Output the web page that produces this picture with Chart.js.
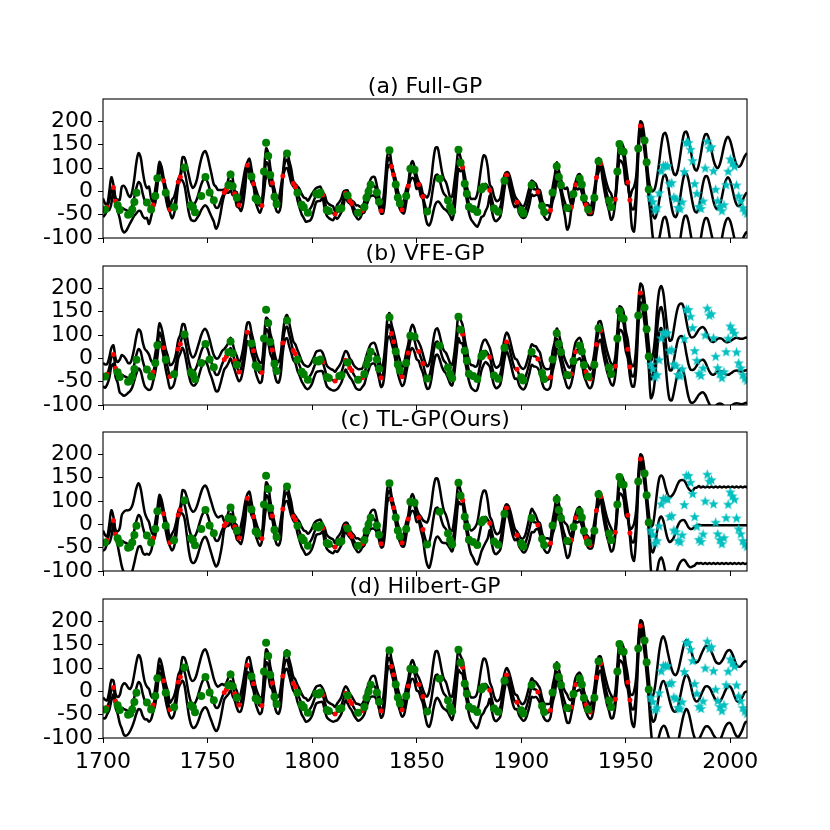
<!DOCTYPE html>
<html>
<head>
<meta charset="utf-8">
<script src="https://cdn.jsdelivr.net/npm/chart.js@4.4.0/dist/chart.umd.min.js"></script>
<style>
  body { margin: 0; background: #fff; }
  #wrap { position: relative; width: 830px; height: 830px; overflow: hidden; }
  canvas { position: absolute; left: 0; }
</style>
</head>
<body>
<div id="wrap">
  <canvas id="pa" width="760" height="214" style="top:59px"></canvas>
  <canvas id="pb" width="760" height="214" style="top:226px"></canvas>
  <canvas id="pc" width="760" height="214" style="top:392px"></canvas>
  <canvas id="pd" width="760" height="214" style="top:559px"></canvas>
</div>
<script>
// axes
const xTickValues = [1700, 1750, 1800, 1850, 1900, 1950, 2000];
const yTickValues = [-50, 0, 50, 100, 150, 200];
const yTickLabels = ['-100', '-50', '0', '100', '150', '200'];
const firstYear = 1700;

// training points (red)
const redYears = [1702,1705,1706,1724,1729,1732,1736,1737,1758,1759,1763,1765,1769,1772,1776,1781,1786,1791,1792,1805,
  1811,1816,1818,1819,1824,1833,1838,1839,1843,1846,1851,1853,1872,1885,1893,1898,1908,1914,1924,1926,
  1931,1933,1936,1938,1945,1951,1952,1957];
const redValues = [16,58,29,21,73,11,70,81,47.6,54,45.1,20.9,106.1,66.5,19.8,68.1,82.9,66.6,60,42.2,
  1.4,45.8,30.1,23.9,8.5,8.5,103.2,85.7,10.7,61.5,64.5,39,101.6,52.2,85.1,26.7,48.5,9.6,16.7,63.9,
  21.2,5.7,79.7,109.6,33.2,69.4,31.5,190.2];

// held-out points (green)
const greenYears = [1701,1707,1708,1712,1713,1714,1715,1716,1721,1723,1725,1726,1730,1734,1739,1742,1743,1744,1747,1749,
  1751,1753,1760,1761,1762,1764,1771,1773,1774,1777,1778,1779,1780,1782,1783,1788,1793,1795,1796,1798,
  1802,1803,1804,1807,1808,1813,1814,1817,1822,1825,1826,1827,1828,1831,1832,1837,1840,1841,1842,1845,
  1847,1849,1855,1861,1865,1866,1867,1870,1871,1873,1874,1875,1877,1879,1881,1882,1887,1889,1892,1900,
  1901,1905,1910,1911,1915,1917,1918,1919,1922,1925,1928,1929,1930,1932,1935,1937,1942,1943,1946,1947,
  1948,1949,1956,1959,1960,1961];
const greenValues = [11,20,10,0,2,11,27,47,26,11,40,78,47,16,101,20,16,5,40,80.9,
  47.7,30.7,62.9,85.9,61.2,36.4,81.6,34.8,30.6,92.5,154.4,125.9,84.8,38.5,22.8,130.9,46.9,21.3,16,4.1,
  45,43.1,47.5,10.1,8.1,12.2,13.9,41,4,16.6,36.3,49.6,64.2,47.8,27.5,138.3,64.6,36.7,24.2,40.1,
  98.5,96.3,6.7,77.2,30.5,16.3,7.3,139,111.2,66.2,44.7,17,12.4,6,54.3,59.7,13.1,6.3,73,9.5,
  2.7,63.5,18.6,5.7,47.4,103.9,80.6,63.6,14.2,44.3,77.8,64.9,35.7,11.1,36.1,114.4,30.6,16.3,92.6,151.6,
  136.3,134.7,141.7,159,112.3,53.9];

// forecast targets (cyan), one per year from 1962
const cyanStart = 1962;
const cyanValues = [37.6,27.9,10.2,15.1,47,93.8,105.9,105.5,104.5,66.6,
  68.9,38,34.5,15.5,12.6,27.5,92.5,155.4,154.6,140.4,
  115.9,66.6,45.9,17.9,13.4,29.4,100.2,157.6,142.6,145.7,
  94.3,54.6,29.9,17.5,8.6,21.5,64.3,93.3,119.6,111,
  104,63.7,40.4,29.8,15.2,7.5,2.9];

// predictive mean 1700-1961 (shared fit region)
const histMean = [
  15,12,16,30,52,58,30,20,12,15,
  12,10,8,10,20,38,58,70,65,45,
  30,25,20,15,21,40,72,105,95,73,
  48,30,11,12,20,40,70,81,98,92,
  70,45,28,22,25,35,50,65,75,78,
  70,55,40,25,15,15,25,38,48,54,
  62,72,60,45,33,21,28,48,78,106,
  105,84,66.5,42,28,19,22,68,112,108,
  82,68,40,23,20,38,82.9,112,118,102,
  84,66.6,60,46,35,23,15,10,8,12,
  20,32,42,44,45,42.2,28,13,8,5,
  3,1.4,6,12,20,34,45.8,40,30.1,23.9,
  15,8,5,5,8.5,17,34,47,58,61,
  60,47,29,8.5,18,58,112,122,103.2,85.7,
  64,40,24,10.7,18,40,61.5,88,97,88,
  70,64.5,52,39,21,9,12,32,62,83,
  86,74,57,45,40,30,18,14,38,78,
  118,108,101.6,70,46,24,12,9,6,9,
  28,50,62,66,60,52.2,33,15,8,10,
  16,40,70,85.1,77,60,41,28,26.7,15,
  8,5,10,24,41,58,55,54,48.5,40,
  20,8,5,5,9.6,43,63,92,80,62,
  40,25,13,8,16.7,40,63.9,69,72,62,
  36,21.2,12,5.7,15,40,79.7,106,109.6,88,
  65,45,30,17,14,33.2,88,136,134,124,
  88,69.4,31.5,12,12,52,140,190,180,150,
  105,56];

// half-width of the +-2 sigma band, 1700-1961
const histBandA = [
  20,12,6,20,28,6,6,12,20,45,
  50,45,35,28,30,40,55,62,58,48,
  38,32,40,20,6,15,12,8,8,6,
  12,15,6,20,18,15,6,6,25,30,
  35,40,38,35,38,42,50,55,58,58,
  55,50,45,40,45,38,28,15,6,6,
  15,20,18,6,15,6,20,25,20,6,
  15,15,6,15,15,15,6,20,30,25,
  20,6,15,15,15,20,6,15,18,15,
  15,6,6,15,20,22,22,25,22,25,
  25,20,15,15,15,6,15,15,15,15,
  15,6,15,15,15,15,6,12,6,6,
  12,12,15,12,6,12,15,15,18,20,
  20,15,12,6,15,20,15,15,6,6,
  12,12,12,6,15,15,6,15,18,15,
  15,6,12,6,20,28,35,45,55,60,
  58,48,38,32,30,25,20,25,30,25,
  20,15,6,15,15,20,22,25,28,35,
  45,55,65,58,42,12,25,25,22,20,
  20,20,15,6,12,15,15,12,6,12,
  12,12,15,18,18,15,15,12,6,12,
  12,12,15,15,6,15,20,20,15,15,
  20,30,45,30,6,12,6,15,15,15,
  12,6,12,6,15,15,6,15,6,15,
  18,20,22,28,18,6,15,20,20,20,
  22,6,6,40,48,30,15,10,15,15,
  15,20];
const histBandB = [
  25,25,22,22,20,20,20,22,35,42,
  42,38,32,30,32,35,40,42,42,40,
  40,40,38,30,20,20,20,20,20,20,
  22,25,25,25,25,22,20,20,25,30,
  30,30,30,30,32,35,35,35,35,35,
  35,35,32,32,35,35,32,28,22,22,
  22,22,22,20,22,20,22,22,22,20,
  22,22,20,22,22,22,20,22,25,25,
  22,20,22,22,22,22,20,22,25,25,
  22,20,20,22,22,22,22,24,24,24,
  24,22,22,22,22,20,22,22,22,22,
  22,20,22,22,22,22,20,22,20,20,
  20,22,22,22,20,22,22,22,22,22,
  22,22,22,20,22,22,22,25,20,20,
  22,22,22,20,22,22,20,22,25,25,
  22,20,22,20,22,24,26,28,28,28,
  28,26,24,22,22,22,22,22,22,22,
  25,25,20,22,22,22,24,26,26,26,
  26,26,26,24,22,20,22,22,22,22,
  22,22,22,20,22,22,22,22,20,22,
  22,22,22,22,22,22,22,22,20,22,
  22,22,22,22,20,22,22,22,22,22,
  22,22,24,22,20,22,20,22,22,22,
  22,20,22,20,22,22,20,22,20,22,
  22,22,22,22,22,20,22,25,25,25,
  22,20,20,22,22,25,25,20,25,25,
  25,25];
const histBandC = [
  22,15,8,20,28,8,8,15,30,55,
  65,70,72,72,70,70,70,68,62,55,
  45,38,35,22,8,15,12,8,8,8,
  12,15,8,18,18,15,8,8,25,30,
  40,50,55,55,55,55,55,55,55,55,
  55,55,55,55,55,50,42,30,8,8,
  15,18,18,8,15,8,20,22,20,8,
  15,15,8,15,15,15,8,20,28,25,
  20,8,15,15,15,20,8,15,18,15,
  15,8,8,15,20,22,22,25,22,22,
  22,20,15,15,15,8,15,15,15,15,
  15,8,15,15,15,15,8,12,8,8,
  12,12,15,12,8,12,15,15,18,20,
  20,15,12,8,15,20,15,15,8,8,
  12,12,12,8,15,15,8,15,18,15,
  15,8,15,20,35,45,55,60,65,65,
  62,55,45,35,30,25,20,22,25,22,
  20,15,8,15,15,20,25,30,38,45,
  52,58,60,55,40,15,25,25,22,20,
  20,20,15,8,12,15,15,12,8,12,
  12,15,18,22,25,25,22,15,8,12,
  12,12,15,15,8,15,20,20,15,15,
  20,28,35,25,8,12,8,15,15,15,
  12,8,12,8,15,15,8,15,8,15,
  18,20,22,25,18,8,15,20,20,20,
  20,8,8,30,40,28,15,10,15,15,
  15,20];
const histBandD = [
  22,20,15,20,22,15,15,18,30,45,
  55,55,50,45,45,50,55,58,55,48,
  40,35,35,25,15,18,18,15,15,15,
  18,20,15,20,20,18,15,15,25,30,
  38,45,48,50,52,55,58,60,62,62,
  60,58,55,52,50,45,38,28,15,15,
  18,20,20,15,18,15,20,22,20,15,
  18,18,15,18,18,18,15,22,28,25,
  22,15,18,18,18,20,15,18,20,18,
  18,15,15,18,20,22,22,25,22,22,
  22,20,18,18,18,15,18,18,18,18,
  18,15,18,18,18,18,15,16,15,15,
  16,16,18,16,15,16,18,18,20,22,
  22,18,16,15,18,22,18,18,15,15,
  16,16,16,15,18,18,15,18,20,18,
  18,15,16,15,22,30,38,45,50,52,
  50,45,38,32,30,25,22,25,28,25,
  22,18,15,18,18,22,25,28,32,38,
  45,52,58,52,40,18,25,25,22,20,
  20,20,18,15,16,18,18,16,15,16,
  16,18,20,22,22,20,18,16,15,16,
  16,16,18,18,15,18,20,20,18,18,
  20,25,30,25,15,16,15,18,18,18,
  16,15,16,15,18,18,15,18,15,18,
  20,22,22,25,20,15,18,20,20,20,
  22,15,15,30,38,28,18,12,18,18,
  18,22];

// forecast mean and band, 1962-2008, per model
const extMeanA = [25,0,-8,5,30,60,82,85,70,42, 15,-2,-5,8,35,65,85,88,75,50,
  25,8,5,18,42,68,82,82,68,48, 28,15,12,20,38,60,75,80,72,55, 35,22,18,22,32,42,48];
const extBandA = [30,50,65,75,82,88,90,90,90,90, 90,90,90,90,90,90,90,90,90,90,
  90,90,90,90,90,90,90,90,90,90, 89,89,88,88,88,87,87,87,86,86, 86,85,85,84,84,84,84];
const extMeanB = [5,15,50,110,150,160,140,95,50,25, 25,45,70,90,97,97,85,60,38,26,
  25,28,35,42,46,47,42,32,22,16, 15,18,22,23,22,18,15,15,17,20, 23,24,23,22,22,24,25];
const extBandB = [40,42,44,45,45,45,50,55,60,63, 65,68,70,70,70,70,70,70,70,70,
  70,70,70,70,70,70,70,70,70,70, 70,70,70,70,70,70,70,70,70,70, 70,70,70,70,70,70,70];
const extMeanC = [0,-10,5,35,60,67,58,38,20,12, 15,22,35,48,56,59,59,52,44,40,
  41,45,48,49,48,48,48,48,48,48, 48,48,48,48,48,48,48,48,48,48, 48,48,48,48,48,48,48];
const extBandC = [45,60,75,85,88,88,90,92,95,96, 96,95,92,90,88,86,85,84,83,82,
  81,83,81,83,81,83,81,83,81,83, 81,83,81,83,81,83,81,83,81,83, 81,83,81,83,81,83,81];
const extMeanD = [5,-15,-10,15,45,65,72,65,48,30, 15,7,7,18,38,60,78,86,80,65,
  45,32,28,32,42,52,60,61,58,50, 40,32,28,28,35,45,55,60,60,52, 40,30,28,32,40,48,50];
const extBandD = [35,55,70,82,90,95,96,92,88,85, 82,80,78,76,75,74,74,74,75,78,
  80,82,84,85,86,86,86,86,86,85, 84,82,82,82,80,78,78,78,78,78, 78,76,75,72,70,66,64];

const panels = [
  { id: 'pa', title: '(a) Full-GP',     mean: histMean.concat(extMeanA), band: histBandA.concat(extBandA), xLabels: false },
  { id: 'pb', title: '(b) VFE-GP',      mean: histMean.concat(extMeanB), band: histBandB.concat(extBandB), xLabels: false },
  { id: 'pc', title: '(c) TL-GP(Ours)', mean: histMean.concat(extMeanC), band: histBandC.concat(extBandC), xLabels: false },
  { id: 'pd', title: '(d) Hilbert-GP',  mean: histMean.concat(extMeanD), band: histBandD.concat(extBandD), xLabels: true },
];

const FONT = 'DejaVu Sans';

// filled star marker like matplotlib 'c*'
function makeStar(size, color) {
  const c = document.createElement('canvas');
  c.width = size; c.height = size;
  const g = c.getContext('2d');
  const cx = size / 2, cy = size / 2, ro = size / 2, ri = ro * 0.42;
  g.beginPath();
  for (let k = 0; k < 10; k++) {
    const r = k % 2 === 0 ? ro : ri;
    const a = -Math.PI / 2 + k * Math.PI / 5;
    g.lineTo(cx + r * Math.cos(a), cy + r * Math.sin(a) + size * 0.05);
  }
  g.closePath();
  g.fillStyle = color;
  g.fill();
  return c;
}
const starImg = makeStar(11, '#00bfbf');

// frame on all four sides + panel title
const framePlugin = {
  id: 'frame',
  afterDraw(chart, args, opts) {
    const { ctx, chartArea: a } = chart;
    ctx.save();
    ctx.strokeStyle = '#000';
    ctx.lineWidth = 1.1;
    ctx.strokeRect(a.left, a.top, a.right - a.left, a.bottom - a.top);
    ctx.fillStyle = '#000';
    ctx.font = '22px "' + FONT + '"';
    ctx.textAlign = 'center';
    ctx.textBaseline = 'alphabetic';
    ctx.fillText(opts.text, (a.left + a.right) / 2, a.top - 6);
    ctx.restore();
  },
};

function pts(xs, ys) {
  return ys.map((v, i) => ({ x: xs[i], y: v }));
}

function curve(values) {
  return values.map((v, i) => ({ x: firstYear + i, y: v }));
}

function lineSet(data) {
  return {
    type: 'line',
    data,
    showLine: true,
    borderColor: '#000',
    borderWidth: 2.5,
    pointRadius: 0,
    tension: 0.35,
    fill: false,
    borderJoinStyle: 'round',
  };
}

panels.forEach(p => {
  const upper = p.mean.map((m, i) => m + p.band[i]);
  const lower = p.mean.map((m, i) => m - p.band[i]);
  const cyanPts = cyanValues.map((v, i) => ({ x: cyanStart + i, y: v }));

  new Chart(document.getElementById(p.id), {
    type: 'scatter',
    data: {
      datasets: [
        { data: cyanPts, pointStyle: starImg, pointRadius: 5.5, showLine: false },
        { data: pts(greenYears, greenValues), backgroundColor: '#008000', borderWidth: 0, pointRadius: 4, showLine: false },
        { data: pts(redYears, redValues), backgroundColor: '#ff0000', borderWidth: 0, pointRadius: 2.5, showLine: false },
        lineSet(curve(upper)),
        lineSet(curve(p.mean)),
        lineSet(curve(lower)),
      ],
    },
    options: {
      responsive: false,
      animation: false,
      events: [],
      layout: { padding: { top: 40, right: 13, left: 0, bottom: 0 } },
      plugins: {
        legend: { display: false },
        tooltip: { enabled: false },
        frame: { text: p.title },
      },
      scales: {
        x: {
          type: 'linear',
          min: 1700,
          max: 2008,
          afterBuildTicks: s => { s.ticks = xTickValues.map(v => ({ value: v })); },
          afterFit: s => { s.height = 35; s.paddingLeft = 0; s.paddingRight = 0; },
          ticks: {
            autoSkip: false,
            maxRotation: 0,
            padding: 6,
            color: '#000',
            font: { family: FONT, size: 22 },
            callback: v => (p.xLabels ? String(v) : ''),
          },
          grid: { drawOnChartArea: false, drawTicks: true, tickLength: 5, color: '#000', lineWidth: 1 },
          border: { display: false },
        },
        y: {
          min: -50,
          max: 248,
          afterBuildTicks: s => { s.ticks = yTickValues.map(v => ({ value: v })); },
          afterFit: s => { s.width = 103; s.paddingTop = 0; s.paddingBottom = 0; },
          ticks: {
            autoSkip: false,
            padding: 5,
            color: '#000',
            font: { family: FONT, size: 22 },
            callback: (v, i) => yTickLabels[i],
          },
          grid: { drawOnChartArea: false, drawTicks: true, tickLength: 5, color: '#000', lineWidth: 1 },
          border: { display: false },
        },
      },
    },
    plugins: [framePlugin],
  });
});
</script>
</body>
</html>
